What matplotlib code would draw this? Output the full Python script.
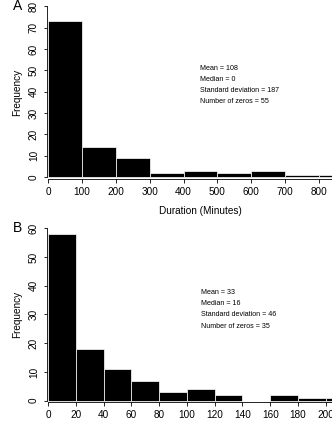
import numpy as np
import matplotlib.pyplot as plt

# Figure size in pixels at 100 dpi.
W, H = 332, 425
DPI = 100

plt.rcParams['font.family'] = ['Liberation Sans', 'DejaVu Sans']

# Panel A: duration histogram, bins of 100 minutes.
a_edges = [0, 100, 200, 300, 400, 500, 600, 700, 800]
a_counts = [73, 14, 9, 2, 3, 2, 3, 1, 1]
a_ticks = [0, 100, 200, 300, 400, 500, 600, 700, 800]
a_stats = ['Mean = 108', 'Median = 0', 'Standard deviation = 187', 'Number of zeros = 55']

# Panel B: bins of 20.
b_edges = [0, 20, 40, 60, 80, 100, 120, 140, 160, 180, 200]
b_counts = [58, 18, 11, 7, 3, 4, 2, 0, 2, 1, 1]
b_ticks = [0, 20, 40, 60, 80, 100, 120, 140, 160, 180, 200]
b_stats = ['Mean = 33', 'Median = 16', 'Standard deviation = 46', 'Number of zeros = 35']

fig = plt.figure(figsize=(W / DPI, H / DPI), dpi=DPI)


def px_axes(left, top, right, bottom):
    # axes from pixel box (origin top-left)
    return fig.add_axes([left / W, 1 - bottom / H, (right - left) / W, (bottom - top) / H])


def panel(ax, edges, counts, width, ticks, ymax, ystep, xlim, ylim):
    ax.bar(edges, counts, width=width, align='edge', color='black',
           edgecolor='white', linewidth=0.5)
    ax.set_xlim(*xlim)
    ax.set_ylim(*ylim)
    ax.set_xticks(ticks)
    ax.set_yticks(np.arange(0, ymax + 1, ystep))
    for s in ['top', 'right']:
        ax.spines[s].set_visible(False)
    ax.spines['left'].set_bounds(0, ymax)
    ax.spines['bottom'].set_bounds(0, xlim[1])
    for s in ['left', 'bottom']:
        ax.spines[s].set_linewidth(0.6)
    ax.tick_params(axis='x', length=3, width=0.6, pad=3, labelsize=7.2)
    ax.tick_params(axis='y', length=2.5, width=0.6, pad=3, labelsize=7.2)
    for lab in ax.get_yticklabels():
        lab.set_rotation(90)
        lab.set_va('center')


axA = px_axes(46.5, 6.3, 332, 179)
panel(axA, a_edges, a_counts, 100, a_ticks, 80, 10, (-4.4, 838), (-0.94, 80))
axB = px_axes(46.5, 228.3, 332, 401.5)
panel(axB, b_edges, b_counts, 20, b_ticks, 60, 10, (-1.1, 204.5), (-0.3, 60))

for ax, top, bottom in [(axA, 6.3, 179), (axB, 228.3, 401.5)]:
    fig.text(17 / W, 1 - (top + bottom) / 2 / H, 'Frequency', rotation=90,
             ha='center', va='center', fontsize=7.2)

fig.text(200 / W, 1 - 211 / H, 'Duration (Minutes)', ha='center', va='center', fontsize=7.2)
fig.text(18 / W, 1 - 6 / H, 'A', ha='center', va='center', fontsize=10)
fig.text(18 / W, 1 - 228 / H, 'B', ha='center', va='center', fontsize=10)

for stats, x0, y0 in [(a_stats, 200, 68), (b_stats, 200.7, 292.7)]:
    for i, s in enumerate(stats):
        fig.text(x0 / W, 1 - (y0 + i * 11.1) / H, s, ha='left', va='center', fontsize=5.1)

fig.savefig('out.png', dpi=DPI)
